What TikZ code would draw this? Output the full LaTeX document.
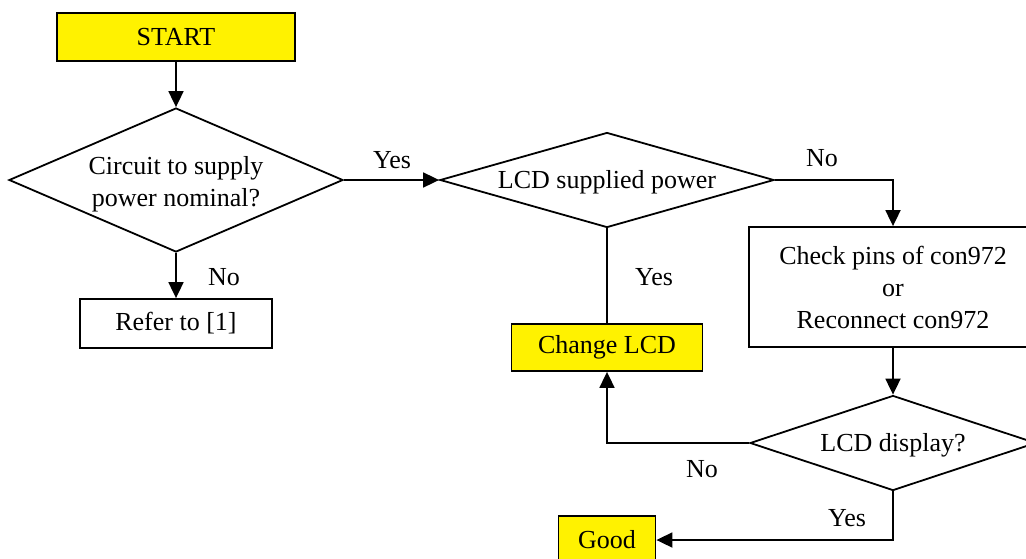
\documentclass[tikz,border=0pt]{standalone}
\usepackage{fontspec}
\setmainfont{Liberation Serif}
\usetikzlibrary{arrows.meta,shapes.geometric}
\begin{document}
\begin{tikzpicture}[x=1pt,y=-1pt,
  every node/.style={font=\fontsize{26}{32}\selectfont},
  box/.style={draw=black,line width=1.8pt,rectangle,inner sep=0pt,align=center},
  ybox/.style={box,fill=yellow},
  dia/.style={draw=black,line width=1.8pt,diamond,inner sep=0pt},
  txt/.style={align=center,inner sep=0pt},
  conn/.style={line width=1.8pt,draw=black},
  arr/.style={conn,-{Triangle[length=16pt,width=15pt]}},
  lab/.style={inner sep=0pt}]
\useasboundingbox (0,0) rectangle (1026,558);
\clip (0,0) rectangle (1026,558);
\node[ybox,minimum width=238pt,minimum height=48pt] (start) at (176,37) {START};
\node[dia,minimum width=334pt,minimum height=144pt] (d1) at (176,180) {};
\node[txt] (d1t) at (176,184) {Circuit to supply\\power nominal?};
\node[box,minimum width=192pt,minimum height=49pt] (refer) at (176,323.5) {Refer to [1]};
\node[dia,minimum width=334pt,minimum height=95pt] (d2) at (607,180) {};
\node[txt] (d2t) at (607,182) {LCD supplied power};
\node[box,minimum width=288pt,minimum height=120pt] (chk) at (893,287) {Check pins of con972\\or\\Reconnect con972};
\node[dia,minimum width=286pt,minimum height=95pt] (d3) at (893,443) {};
\node[txt] (d3t) at (893,445) {LCD display?};
\node[ybox,minimum width=191pt,minimum height=47pt] (chg) at (607,347.5) {Change LCD};
\node[ybox,minimum width=97pt,minimum height=48pt] (good) at (607,540) {Good};
\draw[arr] (start.south) -- (d1.north);
\draw[arr] (d1.south) -- (refer.north);
\draw[arr] (d1.east) -- (d2.west);
\draw[arr] (d2.east) -| (chk.north);
\draw[arr] (chk.south) -- (d3.north);
\draw[arr] (d3.west) -| (chg.south);
\draw[conn] (chg.north) -- (d2.south);
\draw[arr] (d3.south) |- (good.east);
\node[lab] (l1) at (224,277) {No};
\node[lab] (l2) at (392,160) {Yes};
\node[lab] (l3) at (822,158) {No};
\node[lab] (l4) at (654,277) {Yes};
\node[lab] (l5) at (702,469) {No};
\node[lab] (l6) at (847,518) {Yes};
\end{tikzpicture}
\end{document}
